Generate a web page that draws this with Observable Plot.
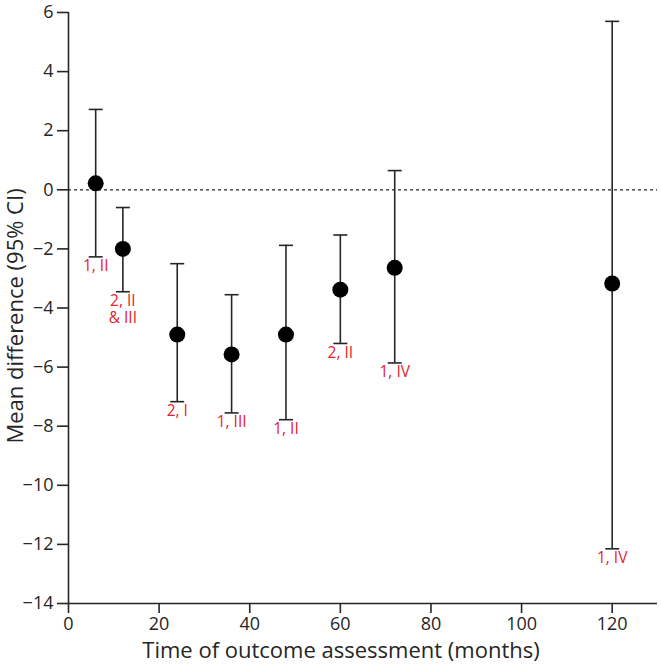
<!DOCTYPE html>
<html>
<head>
<meta charset="utf-8">
<script src="https://cdn.jsdelivr.net/npm/d3@7"></script>
<script src="https://cdn.jsdelivr.net/npm/@observablehq/plot@0.6"></script>
<style>
  html, body { margin: 0; padding: 0; background: #fff; }
  #chart svg { font-family: "Open Sans", sans-serif; }
</style>
</head>
<body>
<div id="chart"></div>
<script>
const months = [6, 12, 24, 36, 48, 60, 72, 120];
const meanDiff = [0.22, -2.0, -4.9, -5.57, -4.9, -3.38, -2.64, -3.17];
const lowerCI = [-2.27, -3.45, -7.17, -7.55, -7.78, -5.2, -5.86, -12.15];
const upperCI = [2.72, -0.6, -2.5, -3.55, -1.88, -1.53, 0.65, 5.7];
const studyLabels = ["1, II", "2, II\n& III", "2, I", "1, III", "1, II", "2, II", "1, IV", "1, IV"];
const yTicks = [-14, -12, -10, -8, -6, -4, -2, 0, 2, 4, 6];
const xTicks = [0, 20, 40, 60, 80, 100, 120];
const xTitle = "Time of outcome assessment (months)";
const yTitle = "Mean difference (95% CI)";

const data = months.map((m, i) => ({
  month: m, mean: meanDiff[i], lo: lowerCI[i], hi: upperCI[i], label: studyLabels[i]
}));

// horizontal-line symbol for the CI caps
const capSymbol = {
  draw(ctx, size) {
    const r = Math.sqrt(size / Math.PI);
    ctx.moveTo(-r, 0);
    ctx.lineTo(r, 0);
  }
};

const ink = "#262626";

const chart = Plot.plot({
  width: 661,
  height: 669,
  marginLeft: 68,
  marginRight: 4,
  marginTop: 12,
  marginBottom: 66,
  style: { fontFamily: "Open Sans, sans-serif", fontSize: "18px", color: ink, background: "#fff" },
  x: { domain: [0, 130], ticks: xTicks },
  y: { domain: [-14, 6], ticks: yTicks },
  marks: [
    Plot.ruleY([0], { stroke: ink, strokeWidth: 1.3, strokeDasharray: "3,3" }),
    Plot.ruleX([0], { stroke: ink, strokeWidth: 1.6 }),
    Plot.ruleY([-14], { stroke: ink, strokeWidth: 1.6 }),
    Plot.axisY({ ticks: yTicks, tickSize: 11, tickPadding: 4, fontSize: 18, label: null, stroke: ink, strokeWidth: 1.6 }),
    Plot.axisX({ ticks: xTicks, tickSize: 10, tickPadding: 4, fontSize: 18, label: null, stroke: ink, strokeWidth: 1.6 }),
    Plot.text([xTitle], { frameAnchor: "bottom", text: d => d, textAnchor: "middle", dx: -22, dy: 54, fontSize: 22, fill: ink }),
    Plot.text([yTitle], { frameAnchor: "left", text: d => d, textAnchor: "middle", rotate: -90, dx: -53, dy: 8, fontSize: 22, fill: ink }),
    Plot.ruleX(data, { x: "month", y1: "lo", y2: "hi", stroke: ink, strokeWidth: 1.6 }),
    Plot.dot(data, { x: "month", y: "hi", symbol: capSymbol, r: 7, stroke: ink, strokeWidth: 1.6, fill: "none" }),
    Plot.dot(data, { x: "month", y: "lo", symbol: capSymbol, r: 7, stroke: ink, strokeWidth: 1.6, fill: "none" }),
    Plot.dot(data, { x: "month", y: "mean", r: 8, fill: "#000", stroke: "none" }),
    Plot.text(data, { x: "month", y: "lo", text: "label", fill: "#e6222b", fontSize: 15.5, lineAnchor: "top", dy: 2, lineHeight: 1.1 })
  ]
});
document.getElementById("chart").appendChild(chart);
</script>
</body>
</html>
